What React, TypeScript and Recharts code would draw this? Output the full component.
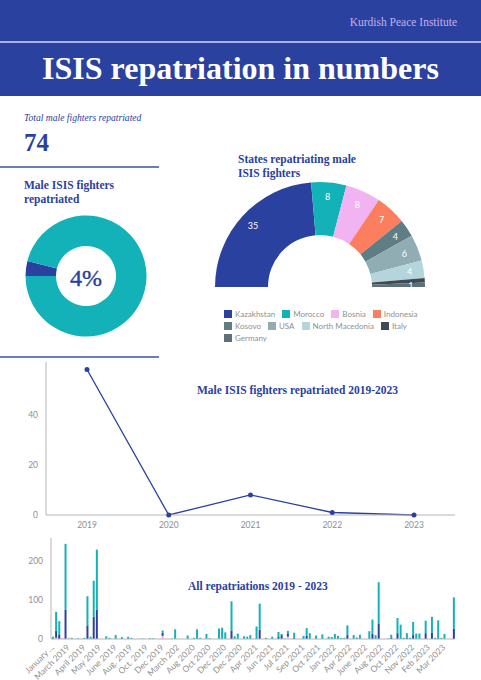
import {
  BarChart,
  Bar,
  LineChart,
  Line,
  PieChart,
  Pie,
  Legend,
  XAxis,
  YAxis,
} from "recharts";

const BLUE = "#2a41a0";
const TEAL = "#12b2b8";
const PINK = "#f2b3f2";
const GREY = "#8f8f8f";
const AXIS = "#b5b5b5";
const SERIF = "'Liberation Serif', serif";
const SANS = "Lato, sans-serif";
const NO_MARGIN = { top: 0, right: 0, bottom: 0, left: 0 };

const shareNames = ["Male fighters", "Others"];
const shareValues = [4, 96];

const stateNames = [
  "Kazakhstan",
  "Morocco",
  "Bosnia",
  "Indonesia",
  "Kosovo",
  "USA",
  "North Macedonia",
  "Italy",
  "Germany",
];
const stateValues = [35, 8, 8, 7, 4, 6, 4, 1, 1];
const stateColors = [
  BLUE,
  TEAL,
  PINK,
  "#fb7f5f",
  "#5f7d85",
  "#8fadb3",
  "#b5d5dc",
  "#3e4a55",
  "#5d7077",
];

const years = ["2019", "2020", "2021", "2022", "2023"];
const yearValues = [58, 0, 8, 1, 0];

// one label for every fifth bar
const tickLabels = [
  "January ...", "March 2019", "April 2019", "May 2019", "June 2019", "Aug. 2019",
  "Oct. 2019", "Dec 2019", "March 202", "Aug 2020", "Oct 2020", "Dec 2020",
  "Dec 2020", "Apr 2021", "Jun 2021", "Jul 2021", "Sep 2021", "Oct 2021",
  "Jan 2022", "Apr 2022", "June 2022", "Aug 2022", "Oct 2022", "Nov 2022",
  "Feb 2023", "Mar 2023",
];

const tealValues = [
  6, 49, 34, 0, 170, 0, 3, 0, 2, 0,
  3, 75, 6, 93, 155, 0, 0, 7, 3, 0,
  10, 0, 5, 0, 6, 3, 0, 0, 1, 1,
  0, 2, 2, 0, 0, 6, 0, 0, 1, 25,
  0, 0, 0, 9, 0, 3, 25, 3, 0, 13,
  2, 0, 0, 27, 29, 17, 0, 75, 7, 14,
  0, 7, 6, 10, 0, 32, 67, 0, 3, 0,
  6, 0, 13, 3, 1, 8, 0, 13, 0, 0,
  8, 20, 15, 0, 9, 0, 12, 0, 6, 5,
  13, 8, 3, 3, 25, 0, 10, 4, 11, 0,
  0, 20, 36, 10, 106, 0, 0, 1, 7, 0,
  39, 37, 3, 12, 3, 34, 14, 14, 0, 32,
  0, 40, 3, 46, 3, 13, 0, 0, 80,
];
const blueValues = [
  0, 18, 12, 0, 75, 0, 0, 0, 0, 0,
  0, 35, 0, 57, 75, 0, 0, 0, 0, 0,
  0, 0, 0, 0, 0, 0, 0, 0, 0, 0,
  0, 0, 0, 0, 0, 8, 0, 0, 0, 0,
  0, 0, 0, 0, 0, 0, 0, 0, 0, 0,
  0, 0, 0, 0, 0, 0, 0, 22, 0, 0,
  0, 0, 0, 0, 0, 0, 24, 0, 0, 0,
  0, 0, 5, 10, 0, 7, 0, 3, 0, 0,
  0, 8, 0, 0, 0, 0, 0, 0, 0, 0,
  0, 0, 0, 0, 10, 0, 0, 0, 0, 0,
  0, 0, 14, 0, 40, 0, 0, 0, 4, 0,
  15, 0, 0, 3, 0, 10, 0, 0, 0, 15,
  0, 17, 0, 2, 0, 0, 0, 0, 27,
];
const pinkValues = [
  0, 3, 0, 3, 0, 4, 0, 0, 0, 0,
  0, 0, 0, 0, 0, 0, 0, 0, 0, 0,
  0, 0, 0, 0, 0, 0, 0, 0, 0, 0,
  0, 0, 0, 0, 0, 8, 0, 0, 0, 0,
  0, 0, 0, 0, 0, 0, 0, 0, 0, 0,
  0, 0, 0, 0, 0, 0, 0, 0, 0, 0,
  0, 0, 0, 0, 0, 0, 0, 0, 0, 0,
  0, 0, 0, 0, 0, 6, 0, 0, 0, 0,
  0, 0, 0, 0, 0, 0, 0, 0, 0, 0,
  0, 0, 0, 0, 0, 0, 0, 0, 0, 0,
  0, 0, 0, 0, 0, 0, 0, 0, 0, 0,
  0, 0, 0, 0, 0, 0, 0, 0, 0, 0,
  0, 0, 0, 0, 0, 0, 0, 0, 0,
];

const shareData = shareNames.map((name, i) => ({
  name,
  value: shareValues[i],
  fill: i === 0 ? BLUE : TEAL,
}));
const stateData = stateNames.map((name, i) => ({
  name,
  value: stateValues[i],
  fill: stateColors[i],
}));
const yearData = years.map((year, i) => ({ year, value: yearValues[i] }));
const barData = tealValues.map((teal, i) => ({
  i,
  teal,
  blue: blueValues[i],
  pink: pinkValues[i],
}));

const RADIAN = Math.PI / 180;

function stateLabel({ cx, cy, midAngle, index }: any) {
  // Italy's label sits under Germany's in the reference
  if (stateNames[index] === "Italy") return null;
  const x = cx + 91 * Math.cos(midAngle * RADIAN);
  const y = cy - 91 * Math.sin(midAngle * RADIAN);
  return (
    <text
      x={x}
      y={y}
      fill="#fff"
      fontSize={9}
      fontFamily={SANS}
      textAnchor="middle"
      dominantBaseline="central"
    >
      {stateValues[index]}
    </text>
  );
}

function StateLegend() {
  return (
    <div
      style={{
        display: "flex",
        flexWrap: "wrap",
        columnGap: 7,
        fontFamily: SANS,
        fontSize: 8,
        lineHeight: "12px",
        color: GREY,
      }}
    >
      {stateNames.map((name, i) => (
        <span key={name} style={{ display: "flex", alignItems: "center" }}>
          <span
            style={{
              width: 8,
              height: 8,
              marginRight: 3,
              background: stateColors[i],
            }}
          />
          {name}
        </span>
      ))}
    </div>
  );
}

function BarTick({ x, y, payload }: any) {
  return (
    <text
      x={x + 2}
      y={y + 1}
      fill={GREY}
      fontSize={8.5}
      fontFamily={SANS}
      textAnchor="end"
      transform={`rotate(-45 ${x + 2} ${y + 1})`}
    >
      {tickLabels[payload.value / 5]}
    </text>
  );
}

function Heading({ left, top, width, children }: any) {
  return (
    <div
      style={{
        position: "absolute",
        left,
        top,
        width,
        fontFamily: SERIF,
        fontWeight: 700,
        fontSize: 11.5,
        lineHeight: "13.5px",
        color: BLUE,
      }}
    >
      {children}
    </div>
  );
}

export default function App() {
  return (
    <div
      style={{
        position: "absolute",
        left: 0,
        top: 0,
        width: 481,
        height: 680,
        background: "#fff",
        overflow: "hidden",
      }}
    >
      <div style={{ position: "absolute", left: 0, top: 0, width: 481, height: 96, background: BLUE }} />
      <div style={{ position: "absolute", left: 0, top: 41, width: 481, height: 2, background: "#a9b5e8" }} />
      <div
        style={{
          position: "absolute",
          right: 24,
          top: 16,
          fontFamily: SERIF,
          fontSize: 11.5,
          color: "#c3b0f0",
        }}
      >
        Kurdish Peace Institute
      </div>
      <div
        style={{
          position: "absolute",
          left: 0,
          top: 49,
          width: 481,
          textAlign: "center",
          fontFamily: SERIF,
          fontWeight: 700,
          fontSize: 32,
          lineHeight: "38px",
          color: "#fff",
        }}
      >
        ISIS repatriation in numbers
      </div>

      <div
        style={{
          position: "absolute",
          left: 24,
          top: 112,
          fontFamily: SERIF,
          fontStyle: "italic",
          fontSize: 9.6,
          color: BLUE,
        }}
      >
        Total male fighters repatriated
      </div>
      <div
        style={{
          position: "absolute",
          left: 24,
          top: 129,
          fontFamily: SERIF,
          fontWeight: 700,
          fontSize: 25,
          color: BLUE,
        }}
      >
        74
      </div>
      <div style={{ position: "absolute", left: 0, top: 166, width: 159, height: 1.5, background: "#6b7fb5" }} />
      <Heading left={24} top={179} width={125}>
        Male ISIS fighters repatriated
      </Heading>
      <Heading left={238} top={153} width={125}>
        States repatriating male ISIS fighters
      </Heading>

      <div style={{ position: "absolute", left: 0, top: 200 }}>
        <PieChart width={172} height={152} margin={NO_MARGIN}>
          <Pie
            data={shareData}
            dataKey="value"
            nameKey="name"
            cx={86}
            cy={76}
            innerRadius={30}
            outerRadius={60.5}
            startAngle={180}
            endAngle={-180}
            stroke="none"
            isAnimationActive={false}
          />
        </PieChart>
      </div>
      <div
        style={{
          position: "absolute",
          left: 46,
          top: 263,
          width: 80,
          textAlign: "center",
          fontFamily: SERIF,
          fontSize: 24,
          lineHeight: "30px",
          color: BLUE,
          WebkitTextStroke: `0.4px ${BLUE}`,
        }}
      >
        4%
      </div>
      <div style={{ position: "absolute", left: 0, top: 356, width: 159, height: 1.5, background: "#6b7fb5" }} />

      <div style={{ position: "absolute", left: 200, top: 170 }}>
        <PieChart width={240} height={180} margin={NO_MARGIN}>
          <Pie
            data={stateData}
            dataKey="value"
            nameKey="name"
            cx={120}
            cy={117}
            innerRadius={52}
            outerRadius={105}
            startAngle={180}
            endAngle={0}
            stroke="none"
            label={stateLabel}
            labelLine={false}
            isAnimationActive={false}
          />
          <Legend
            verticalAlign="bottom"
            content={<StateLegend />}
            wrapperStyle={{ left: 24, top: 138, bottom: "auto", width: 200 }}
          />
        </PieChart>
      </div>

      <div style={{ position: "absolute", left: 0, top: 355 }}>
        <LineChart
          width={481}
          height={176}
          data={yearData}
          margin={{ top: 7, right: 26, bottom: 0, left: 0 }}
        >
          <XAxis
            dataKey="year"
            height={16}
            padding={{ left: 41, right: 41 }}
            stroke={AXIS}
            tickLine={false}
            tickMargin={1}
            tick={{ fill: GREY, fontSize: 8.5, fontFamily: SANS }}
          />
          <YAxis
            width={46}
            domain={[0, 61]}
            ticks={[0, 20, 40]}
            stroke={AXIS}
            tickLine={false}
            tick={{ fill: GREY, fontSize: 8.5, fontFamily: SANS }}
          />
          <Line
            dataKey="value"
            type="linear"
            stroke={BLUE}
            strokeWidth={1.3}
            dot={{ r: 2.5, fill: BLUE, stroke: "none" }}
            isAnimationActive={false}
          />
        </LineChart>
      </div>
      <Heading left={197} top={384} width={230}>
        Male ISIS fighters repatriated 2019-2023
      </Heading>

      <div style={{ position: "absolute", left: 0, top: 530 }}>
        <BarChart
          width={481}
          height={150}
          data={barData}
          barSize={2}
          barCategoryGap={0}
          margin={{ top: 8, right: 26, bottom: 0, left: 0 }}
        >
          <XAxis
            dataKey="i"
            height={41}
            interval={4}
            stroke={AXIS}
            tickLine={false}
            tick={<BarTick />}
          />
          <YAxis
            width={51}
            domain={[0, 260]}
            ticks={[0, 100, 200]}
            stroke={AXIS}
            tickLine={false}
            tick={{ fill: GREY, fontSize: 8.5, fontFamily: SANS }}
          />
          <Bar dataKey="pink" stackId="a" fill={PINK} isAnimationActive={false} />
          <Bar dataKey="blue" stackId="a" fill={BLUE} isAnimationActive={false} />
          <Bar dataKey="teal" stackId="a" fill={TEAL} isAnimationActive={false} />
        </BarChart>
      </div>
      <Heading left={188} top={580} width={200}>
        All repatriations 2019 - 2023
      </Heading>
    </div>
  );
}
